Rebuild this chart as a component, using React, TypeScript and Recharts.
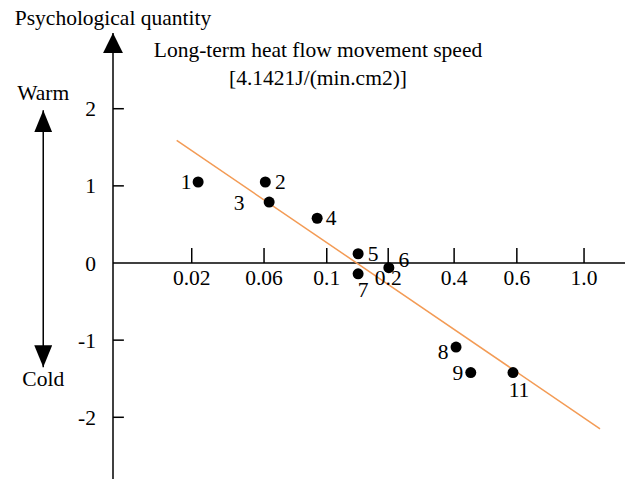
import React from 'react';
import { ComposedChart, XAxis, YAxis, Scatter, ReferenceLine, Label } from 'recharts';

// x positions are in axis-position units (the printed axis is not linear)
const X_TICK_POS = [1.23, 2.36, 3.34, 4.3, 5.33, 6.31, 7.36];
const X_TICK_LABELS = ['0.02', '0.06', '0.1', '0.2', '0.4', '0.6', '1.0'];
const Y_TICKS = [-2, -1, 0, 1, 2];

const POINT_NAMES = ['1', '2', '3', '4', '5', '6', '7', '8', '9', '11'];
const POINT_X = [1.33, 2.38, 2.44, 3.19, 3.83, 4.31, 3.83, 5.36, 5.59, 6.25];
const POINT_Y = [1.05, 1.05, 0.79, 0.58, 0.12, -0.06, -0.14, -1.09, -1.42, -1.42];

const FIT_X = [0.995, 7.61];
const FIT_Y = [1.59, -2.15];

// pixel offsets of the point number relative to its dot
const LABEL_OFFSETS: Record<string, [number, number]> = {
  '1': [-12, 0],
  '2': [15, 0],
  '3': [-30, 1],
  '4': [14, 0],
  '5': [15, 0],
  '6': [15, -8],
  '7': [5, 16],
  '8': [-13, 5],
  '9': [-13, 0],
  '11': [6, 17],
};

const FONT = '"Liberation Serif", "Times New Roman", serif';
const FS = 21.5;

const points = POINT_NAMES.map((name, i) => ({ name, x: POINT_X[i], y: POINT_Y[i] }));

const Dot = (props: any) => {
  const { cx, cy, payload } = props;
  const [dx, dy] = LABEL_OFFSETS[payload.name] || [12, 0];
  return (
    <g>
      <circle cx={cx} cy={cy} r={5.5} fill="#000" />
      <text
        x={cx + dx}
        y={cy + dy}
        textAnchor="middle"
        dominantBaseline="central"
        fontFamily={FONT}
        fontSize={FS}
        fill="#000"
      >
        {payload.name}
      </text>
    </g>
  );
};

export default function App() {
  return (
    <div style={{ position: 'absolute', left: 0, top: 0, background: '#fff' }}>
      <ComposedChart
        width={630}
        height={483}
        margin={{ top: 47, right: 5, bottom: 4, left: 73 }}
      >
        <defs>
          <marker
            id="arrowY"
            markerUnits="userSpaceOnUse"
            markerWidth={20}
            markerHeight={20}
            viewBox="0 0 20 20"
            refX={20}
            refY={10}
            orient="auto-start-reverse"
          >
            <path d="M0,0 L20,10 L0,20 Z" fill="#000" />
          </marker>
          <marker
            id="arrowWC"
            markerUnits="userSpaceOnUse"
            markerWidth={22}
            markerHeight={18}
            viewBox="0 0 22 18"
            refX={22}
            refY={9}
            orient="auto-start-reverse"
          >
            <path d="M0,0 L22,9 L0,18 Z" fill="#000" />
          </marker>
        </defs>
        <XAxis type="number" dataKey="x" domain={[0, 8]} hide allowDataOverflow />
        <YAxis
          type="number"
          dataKey="y"
          domain={[-2.8, 2.8]}
          ticks={Y_TICKS}
          width={40}
          axisLine={false}
          tickLine={false}
          tickSize={0}
          tickMargin={17}
          allowDataOverflow
          tick={{ fontFamily: FONT, fontSize: FS, fill: '#000' }}
        />

        {/* y axis with arrow */}
        <ReferenceLine
          segment={[{ x: 0, y: -2.8 }, { x: 0, y: 2.98 }]}
          stroke="#000"
          strokeWidth={1.5}
          markerEnd="url(#arrowY)"
          ifOverflow="visible"
        >
          <Label
            value="Psychological quantity"
            position="top"
            offset={8}
            fontFamily={FONT}
            fontSize={FS}
            fill="#000"
          />
        </ReferenceLine>

        {/* x axis */}
        <ReferenceLine y={0} stroke="#000" strokeWidth={1.5} />

        {Y_TICKS.filter((v) => v !== 0).map((v) => (
          <ReferenceLine
            key={'yt' + v}
            segment={[{ x: 0, y: v }, { x: 0.17, y: v }]}
            stroke="#000"
            strokeWidth={1.5}
          />
        ))}

        {X_TICK_POS.map((p, i) => (
          <ReferenceLine
            key={'xt' + i}
            segment={[{ x: p, y: 0 }, { x: p, y: 0.194 }]}
            stroke="#000"
            strokeWidth={1.5}
          >
            <Label
              value={X_TICK_LABELS[i]}
              position="bottom"
              offset={7}
              fontFamily={FONT}
              fontSize={FS}
              fill="#000"
            />
          </ReferenceLine>
        ))}

        {/* warm / cold arrow */}
        <ReferenceLine
          segment={[{ x: -1.09, y: -1.35 }, { x: -1.09, y: 1.98 }]}
          stroke="#000"
          strokeWidth={1.5}
          markerStart="url(#arrowWC)"
          markerEnd="url(#arrowWC)"
          ifOverflow="visible"
        >
          <Label value="Warm" position="top" offset={10} fontFamily={FONT} fontSize={FS} fill="#000" />
          <Label value="Cold" position="bottom" offset={4} fontFamily={FONT} fontSize={FS} fill="#000" />
        </ReferenceLine>

        {/* fitted line */}
        <ReferenceLine
          segment={[{ x: FIT_X[0], y: FIT_Y[0] }, { x: FIT_X[1], y: FIT_Y[1] }]}
          stroke="#F39B55"
          strokeWidth={1.5}
        />

        <Scatter data={points} shape={<Dot />} isAnimationActive={false} />

        <text x={318} y={57} textAnchor="middle" fontFamily={FONT} fontSize={FS} fill="#000">
          Long-term heat flow movement speed
        </text>
        <text x={318} y={85} textAnchor="middle" fontFamily={FONT} fontSize={FS} fill="#000">
          [4.1421J/(min.cm2)]
        </text>
      </ComposedChart>
    </div>
  );
}
